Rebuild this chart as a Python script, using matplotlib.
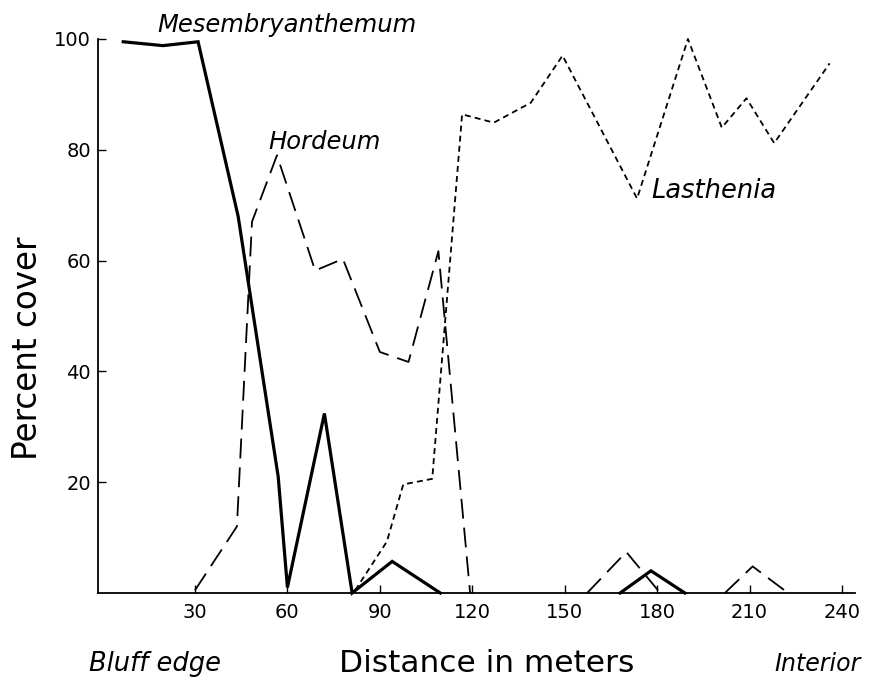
import numpy as np
from matplotlib import pyplot as plt

nan = np.nan

# Mesembryanthemum (heavy solid line)
mes_x = [6.7, 19.6, 31, 44, 57, 60, 72, 81, 94, 109.6, nan, 168, 178, 189]
mes_y = [99.5, 98.8, 99.5, 68, 21, 1, 32.4, 0, 5.7, 0, nan, 0, 4, 0]

# Hordeum (long dashes)
hor_x = [30, 43.6, 48.5, 56.6, 69, 78, 90, 99.3, 109, 119.3, nan,
         157.3, 170, 181, nan, 202, 211, 222.5]
hor_y = [0.5, 12, 67, 79, 58.2, 60.3, 43.5, 41.7, 61.7, 0, nan,
         0, 7.4, 0, nan, 0, 4.8, 0]

# Lasthenia (short dashes)
las_x = [82, 92.3, 97.6, 107, 116.7, 127, 139, 149.3, 173.5, 190, 201, 209, 218, 236]
las_y = [0.5, 9.3, 19.6, 20.6, 86.4, 84.9, 88.5, 97, 71.2, 100, 84, 89.3, 81.2, 95.6]

xticks = [30, 60, 90, 120, 150, 180, 210, 240]
yticks = [20, 40, 60, 80, 100]

fig = plt.figure(figsize=(8.7, 6.78), dpi=100)
ax = fig.add_axes([0.1126, 0.1254, 0.8704, 0.8171])

ax.plot(mes_x, mes_y, color='black', lw=2.3, solid_joinstyle='miter', clip_on=False)
ax.plot(hor_x, hor_y, color='black', lw=1.3, dashes=(11, 5), clip_on=False)
ax.plot(las_x, las_y, color='black', lw=1.3, dashes=(3.3, 2.3), clip_on=False)

ax.set_xlim(-1.5, 244.3)
ax.set_ylim(0, 100)
ax.set_xticks(xticks)
ax.set_yticks(yticks)
ax.tick_params(direction='in', length=6, width=1, labelsize=14)
ax.tick_params(axis='x', pad=7)
ax.tick_params(axis='y', pad=5)
for s in ['top', 'right']:
    ax.spines[s].set_visible(False)
for s in ['left', 'bottom']:
    ax.spines[s].set_linewidth(1.3)

fig.text(28 / 870, 1 - 348 / 678, 'Percent cover', rotation=90,
         ha='center', va='center', fontsize=23.5)

tkw = dict(style='italic')
ax.text(60, 102.5, 'Mesembryanthemum', ha='center', va='center', clip_on=False,
        fontsize=17.5, **tkw)
ax.text(72, 81.4, 'Hordeum', ha='center', va='center', fontsize=17.5, **tkw)
ax.text(178.1, 72.6, 'Lasthenia', ha='left', va='center', fontsize=18.5, **tkw)

fig.text(155 / 870, 1 - 664 / 678, 'Bluff edge', ha='center', va='center',
         fontsize=18.5, **tkw)
fig.text(487 / 870, 1 - 664 / 678, 'Distance in meters', ha='center', va='center',
         fontsize=22.5)
fig.text(818 / 870, 1 - 664 / 678, 'Interior', ha='center', va='center',
         fontsize=17, **tkw)

plt.savefig('out.png', dpi=100)
